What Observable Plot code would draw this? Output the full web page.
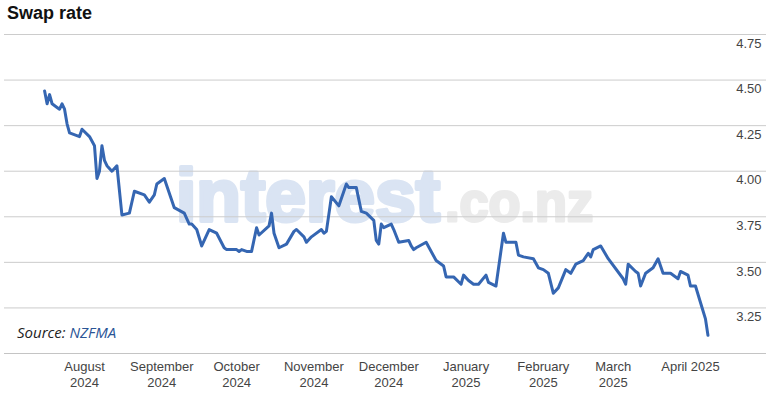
<!DOCTYPE html>
<html>
<head>
<meta charset="utf-8">
<script src="https://cdn.jsdelivr.net/npm/d3@7"></script>
<script src="https://cdn.jsdelivr.net/npm/@observablehq/plot@0.6"></script>
<style>
  html, body { margin: 0; padding: 0; background: #fff; }
  #wrap { position: relative; width: 766px; height: 393px; overflow: hidden; }
  #title { position: absolute; left: 7px; top: 3px; font: bold 18px "Liberation Sans", Arial, sans-serif; color: #111; }
  #source { position: absolute; left: 17px; top: 322px; font: italic 15px "Open Sans", sans-serif; color: #222; }
  #source span { color: #2a5596; }
</style>
</head>
<body>
<div id="wrap">
  <div id="chart"></div>
  <div id="title">Swap rate</div>
  <div id="source">Source: <span>NZFMA</span></div>
</div>
<script>
const dates = [
"2024-07-16","2024-07-17","2024-07-18","2024-07-19","2024-07-21","2024-07-22","2024-07-23","2024-07-24","2024-07-25","2024-07-26","2024-07-30","2024-07-31",
"2024-08-03","2024-08-05","2024-08-06","2024-08-07","2024-08-08","2024-08-09","2024-08-10","2024-08-12","2024-08-14","2024-08-16","2024-08-19","2024-08-21","2024-08-25","2024-08-27","2024-08-29","2024-08-30",
"2024-09-02","2024-09-06","2024-09-10","2024-09-12","2024-09-13","2024-09-15","2024-09-17","2024-09-20","2024-09-23","2024-09-26","2024-09-27",
"2024-10-01","2024-10-02","2024-10-03","2024-10-05","2024-10-07","2024-10-09","2024-10-10","2024-10-14","2024-10-15","2024-10-16","2024-10-18","2024-10-21","2024-10-24","2024-10-25","2024-10-28","2024-10-29","2024-10-31",
"2024-11-04","2024-11-05","2024-11-06","2024-11-08","2024-11-11","2024-11-14","2024-11-15","2024-11-18","2024-11-20","2024-11-22","2024-11-25","2024-11-26","2024-11-27","2024-11-28","2024-11-29",
"2024-12-02","2024-12-03","2024-12-05","2024-12-09","2024-12-10","2024-12-11","2024-12-12","2024-12-16","2024-12-20","2024-12-23","2024-12-24","2024-12-27","2024-12-30","2024-12-31",
"2025-01-02","2025-01-04","2025-01-06","2025-01-09","2025-01-10","2025-01-13","2025-01-16","2025-01-17","2025-01-21","2025-01-22","2025-01-24","2025-01-28","2025-01-30",
"2025-02-01","2025-02-03","2025-02-05","2025-02-07","2025-02-10","2025-02-12","2025-02-14","2025-02-17","2025-02-19","2025-02-20","2025-02-21","2025-02-24","2025-02-27",
"2025-03-05","2025-03-06","2025-03-07","2025-03-10","2025-03-11","2025-03-12","2025-03-14","2025-03-17","2025-03-19","2025-03-21","2025-03-24","2025-03-27","2025-03-28","2025-03-31",
"2025-04-01","2025-04-03","2025-04-05","2025-04-07","2025-04-08"
];
const rates = [
4.44,4.37,4.42,4.37,4.35,4.34,4.37,4.34,4.26,4.21,4.19,4.23,
4.19,4.14,3.96,4.00,4.14,4.06,4.03,4.00,4.03,3.76,3.77,3.89,3.87,3.83,3.87,3.93,
3.96,3.80,3.77,3.71,3.71,3.68,3.59,3.68,3.66,3.58,3.57,
3.57,3.56,3.57,3.56,3.56,3.69,3.65,3.70,3.77,3.66,3.58,3.60,3.67,3.68,3.64,3.61,3.64,
3.68,3.66,3.67,3.86,3.81,3.93,3.91,3.91,3.78,3.77,3.73,3.62,3.60,3.71,3.69,
3.71,3.68,3.61,3.62,3.59,3.57,3.58,3.61,3.51,3.48,3.42,3.42,3.38,3.43,
3.40,3.38,3.38,3.43,3.39,3.37,3.66,3.61,3.61,3.54,3.53,3.52,3.47,
3.46,3.44,3.33,3.36,3.46,3.44,3.49,3.51,3.55,3.53,3.57,3.59,3.52,
3.41,3.38,3.49,3.45,3.44,3.37,3.44,3.47,3.52,3.44,3.44,3.41,3.45,3.43,
3.37,3.37,3.28,3.19,3.10
];
const monthTicks = ["2024-08-01","2024-09-01","2024-10-01","2024-11-01","2024-12-01","2025-01-01","2025-02-01","2025-03-01","2025-04-01"];
const monthLabels = ["August\n2024","September\n2024","October\n2024","November\n2024","December\n2024","January\n2025","February\n2025","March\n2025","April 2025"];
const yTicks = [3.25, 3.5, 3.75, 4.0, 4.25, 4.5, 4.75];
const yBase = 3.0;

const data = dates.map((d, i) => ({date: new Date(d), rate: rates[i]}));
const months = monthTicks.map((d, i) => ({date: new Date(d), label: monthLabels[i]}));

const svg = Plot.plot({
  width: 766,
  height: 393,
  marginTop: 0, marginBottom: 0, marginRight: 0, marginLeft: 4,
  style: {background: "transparent", fontFamily: "'Liberation Sans', Arial, sans-serif", overflow: "visible"},
  x: {type: "utc", domain: [new Date(monthTicks[0]), new Date(monthTicks[monthTicks.length - 1])], range: [84, 690], axis: null},
  y: {domain: [yBase, 4.75], range: [353, 34], axis: null},
  marks: [
    Plot.ruleY(yTicks, {stroke: "#cccccc", strokeWidth: 1}),
    Plot.ruleY([yBase], {stroke: "#c4c4c4", strokeWidth: 1}),
    Plot.text(yTicks, {y: d => d, text: d => d.toFixed(2), frameAnchor: "right", dx: -5, dy: 4, lineAnchor: "top", textAnchor: "end", fill: "#444", fontSize: 13}),
    Plot.text(months, {x: "date", y: () => yBase, text: "label", dy: 5, lineAnchor: "top", textAnchor: "middle", fill: "#444", fontSize: 13, lineHeight: 1.3}),
    Plot.line(data, {x: "date", y: "rate", stroke: "#3566b2", strokeWidth: 3, strokeLinejoin: "round"})
  ]
});

// watermark behind everything
const wm = d3.select(svg).insert("g", "g").attr("aria-label", "watermark").attr("text-anchor", "start");
wm.append("text").attr("x", 176).attr("y", 221)
  .attr("font-family", "'Liberation Sans', Arial, sans-serif").attr("font-weight", "bold")
  .attr("font-size", 74).attr("fill", "#dae4f3").attr("stroke", "#dae4f3").attr("stroke-width", 4)
  .attr("stroke-linejoin", "round")
  .attr("textLength", 264).attr("lengthAdjust", "spacingAndGlyphs")
  .text("interest");
wm.append("text").attr("x", 445).attr("y", 221)
  .attr("font-family", "'Liberation Sans', Arial, sans-serif").attr("font-weight", "bold")
  .attr("font-size", 55).attr("fill", "#ebebeb").attr("stroke", "#ebebeb").attr("stroke-width", 3)
  .attr("stroke-linejoin", "round")
  .attr("textLength", 148).attr("lengthAdjust", "spacingAndGlyphs")
  .text(".co.nz");

document.getElementById("chart").appendChild(svg);
</script>
</body>
</html>
